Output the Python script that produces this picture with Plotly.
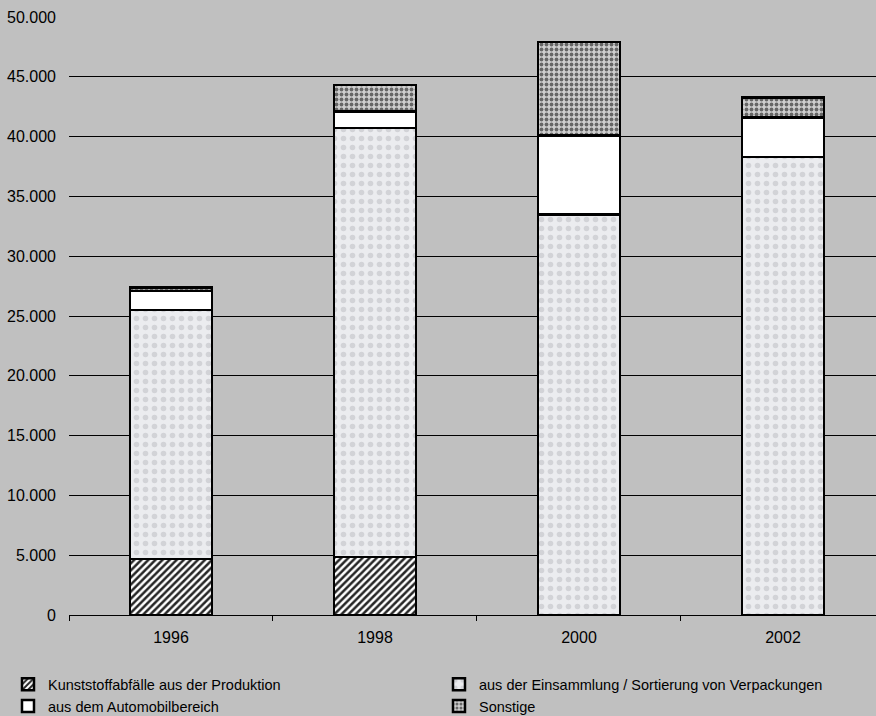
import plotly.graph_objects as go

# Kunststoffabfälle je Herkunft, in Tonnen
jahre = ["1996", "1998", "2000", "2002"]
produktion = [4700, 4850, 0, 0]
einsammlung = [20800, 35870, 33500, 38300]
automobil = [1600, 1380, 6600, 3300]
sonstige = [300, 2200, 7830, 1650]

serien = [
    ("Kunststoffabfälle aus der Produktion", produktion,
     dict(color="white", pattern=dict(shape="/", fgcolor="black", fgopacity=0.85,
                                      bgcolor="white", size=5, solidity=0.5,
                                      fillmode="replace"))),
    ("aus der Einsammlung / Sortierung von Verpackungen", einsammlung,
     dict(color="#e6e7ea", pattern=dict(shape=".", fgcolor="#d2d3d7", bgcolor="#ebecef",
                                        size=9, solidity=0.3, fillmode="replace"))),
    ("aus dem Automobilbereich", automobil,
     dict(color="white")),
    ("Sonstige", sonstige,
     dict(color="#b8b8b8", pattern=dict(shape=".", fgcolor="#666666", bgcolor="#cfcfcf",
                                        size=5, solidity=0.45, fillmode="replace"))),
]

fig = go.Figure()
for name, werte, marker in serien:
    marker = dict(marker)
    marker["line"] = dict(color="black", width=2.5)
    fig.add_trace(go.Bar(x=jahre, y=werte, name=name, marker=marker, width=0.4))

grau = "#c0c0c0"
schrift = dict(family="Liberation Sans, Arial, sans-serif", size=16, color="black")
legenden_schrift = dict(schrift, size=14.5)

fig.update_layout(
    width=876, height=716,
    barmode="stack",
    separators=",.",
    paper_bgcolor=grau, plot_bgcolor=grau,
    font=schrift,
    margin=dict(l=69, r=0, t=17, b=101, autoexpand=False),
    showlegend=True,
    legend=dict(
        orientation="h", traceorder="normal",
        x=-0.0756, y=-0.089, xanchor="left", yanchor="top",
        entrywidth=386, entrywidthmode="pixels",
        itemwidth=30, bgcolor="rgba(0,0,0,0)",
        font=legenden_schrift, tracegroupgap=0,
    ),
    bargap=0.6,
)
fig.update_xaxes(
    type="category", range=[-0.5, 3.456],
    showgrid=False, showline=True, linecolor="black", linewidth=1,
    ticks="outside", tickson="boundaries", ticklen=5, tickcolor="black",
    ticklabelstandoff=8, tickfont=schrift,
)
fig.update_yaxes(
    range=[0, 50000], dtick=5000, tickformat=",.0f",
    showgrid=True, gridcolor="black", gridwidth=1,
    zeroline=False, showline=False, ticks="",
    ticklabelstandoff=12, tickfont=schrift,
)

fig.write_html("out.html")
